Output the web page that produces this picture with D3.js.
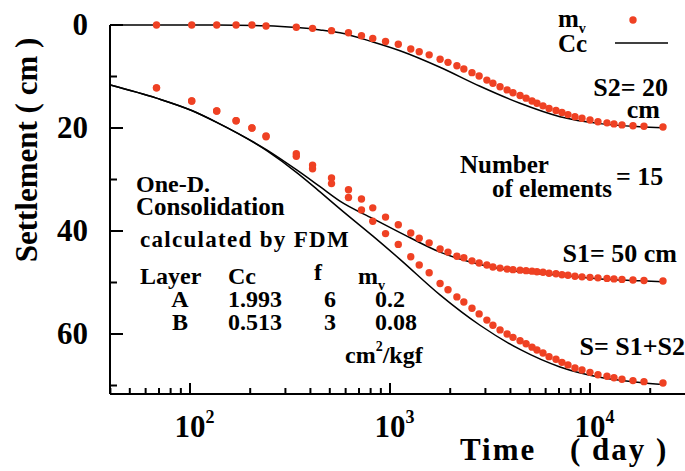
<!DOCTYPE html>
<html lang="en">
<head>
<meta charset="UTF-8">
<title>One-D. Consolidation</title>
<style>
    body { margin: 0; background: #fff; }
    svg text { font-family: "Liberation Serif", "Times New Roman", serif; font-weight: bold; fill: #000; }
    .axis line, .axis path { stroke: #000; stroke-width: 2px; }
</style>
</head>
<body>
<svg width="685" height="471" id="chart"></svg>
<script src="https://d3js.org/d3.v7.min.js"></script>
<script>
    // times of the FDM output (days) and settlements (cm) -- mv dots
    const dotDays = [68, 102, 136, 170, 204, 240, 340, 410, 510, 620, 720, 820,
        950, 1100, 1270, 1400, 1570, 1780, 1950, 2160, 2340, 2570, 2790, 3050,
        3270, 3550, 3850, 4120, 4470, 4790, 5130, 5430, 5820, 6240, 6760, 7240,
        7760, 8410, 9120, 10000, 10960, 12160, 13180, 14450, 16400, 18620, 23170];
    const dotS2 = [0, 0, 0, 0, 0, 0.2, 0.45, 0.65, 1.1, 1.5, 2.1, 2.6,
        3.2, 3.75, 4.65, 5.2, 5.8, 6.65, 7.25, 7.9, 8.55, 9.25, 9.9, 10.7,
        11.3, 12.0, 12.6, 13.15, 13.7, 14.2, 14.75, 15.2, 15.7, 16.2, 16.6, 17.0,
        17.4, 17.8, 18.1, 18.45, 18.8, 19.0, 19.2, 19.4, 19.55, 19.65, 19.8];
    const dotS1 = [12.2, 14.75, 16.7, 18.6, 20.0, 21.55, 25.0, 27.2, 29.7, 32.0, 33.8, 35.5,
        37.3, 38.8, 40.4, 41.4, 42.3, 43.5, 44.1, 44.9, 45.2, 45.8, 46.2, 46.6,
        47.0, 47.2, 47.4, 47.5, 47.6, 47.7, 47.8, 47.9, 48.0, 48.2, 48.3, 48.5,
        48.6, 48.8, 48.9, 49.0, 49.1, 49.2, 49.3, 49.4, 49.5, 49.6, 49.7];
    const dotS = [12.2, 14.75, 16.7, 18.6, 20.0, 21.7, 25.5, 27.9, 30.8, 33.5, 35.9, 38.1,
        40.5, 42.6, 45.0, 46.6, 48.1, 50.2, 51.4, 52.8, 53.8, 55.0, 56.1, 57.3,
        58.3, 59.2, 60.0, 60.65, 61.3, 61.9, 62.55, 63.1, 63.7, 64.4, 64.9, 65.5,
        66.0, 66.6, 67.0, 67.45, 67.9, 68.2, 68.5, 68.8, 69.05, 69.25, 69.5];

    // Cc curves
    const lineDays = [40, 68, 102, 136, 243, 343, 447, 562, 822, 1122, 1778, 2818, 4467, 7079, 11220, 17783, 23170];
    const lineS2 = [0, 0, 0, 0, 0.15, 0.5, 0.95, 1.5, 3.3, 5.0, 8.2, 11.9, 15.2, 17.8, 19.15, 19.75, 19.95];
    const lineS1 = [11.65, 14.2, 16.6, 18.9, 24.3, 28.2, 31.4, 34.2, 37.6, 40.3, 44.1, 46.5, 47.9, 48.6, 49.3, 49.65, 49.85];
    const lineS = [11.65, 14.2, 16.6, 18.9, 24.45, 28.7, 32.4, 35.7, 41.0, 45.5, 52.4, 58.3, 63.0, 66.4, 68.4, 69.4, 69.8];

    const yMajor = [0, 20, 40, 60];
    const yMinor = [10, 30, 50, 70];
    const xExps = [2, 3, 4];

    const svg = d3.select('#chart');
    const pLeft = 110, pRight = 685, pTop = 25, pBottom = 394;

    const x = d3.scaleLog().domain([Math.pow(10, 1.6), Math.pow(10, 4.475)]).range([pLeft, pRight]);
    const y = d3.scaleLinear().domain([0, 71.65]).range([pTop, pBottom]);

    svg.append('clipPath').attr('id', 'plot')
        .append('rect').attr('x', pLeft).attr('y', 0).attr('width', pRight - pLeft).attr('height', pBottom);

    // y axis: ticks point into the plot
    const yAxis = svg.append('g').attr('class', 'axis');
    yAxis.append('line').attr('x1', pLeft).attr('x2', pLeft).attr('y1', pTop).attr('y2', pBottom);
    yAxis.selectAll('.major').data(yMajor).enter().append('line')
        .attr('x1', pLeft).attr('x2', pLeft + 13).attr('y1', d => y(d)).attr('y2', d => y(d));
    yAxis.selectAll('.minor').data(yMinor).enter().append('line')
        .attr('x1', pLeft).attr('x2', pLeft + 7).attr('y1', d => y(d)).attr('y2', d => y(d));
    yAxis.selectAll('text').data(yMajor).enter().append('text')
        .attr('x', 88).attr('y', d => y(d) + 10)
        .attr('text-anchor', 'end').style('font-size', '31px')
        .text(d => d);

    // x axis (log)
    const xAxis = svg.append('g').attr('class', 'axis');
    xAxis.append('line').attr('x1', pLeft).attr('x2', pRight).attr('y1', pBottom).attr('y2', pBottom);
    const minorTicks = [];
    for (let e = 1; e <= 4; e++) {
        for (let m = 2; m <= 9; m++) {
            const v = m * Math.pow(10, e);
            if (v > x.domain()[0] && v < x.domain()[1]) minorTicks.push(v);
        }
    }
    xAxis.selectAll('.minor').data(minorTicks).enter().append('line')
        .attr('x1', d => x(d)).attr('x2', d => x(d)).attr('y1', pBottom).attr('y2', pBottom - 6);
    xAxis.selectAll('.major').data(xExps).enter().append('line')
        .attr('x1', d => x(Math.pow(10, d))).attr('x2', d => x(Math.pow(10, d)))
        .attr('y1', pBottom).attr('y2', pBottom - 11);
    // "10" centred on the tick, exponent as a raised tspan
    const xl = xAxis.selectAll('.lab').data(xExps).enter().append('text')
        .attr('x', d => x(Math.pow(10, d)) - 15.5).attr('y', 437)
        .style('font-size', '31px');
    xl.append('tspan').text('10');
    xl.append('tspan').attr('dy', -14).style('font-size', '18px').text(d => d);

    // axis titles
    svg.append('text')
        .attr('transform', 'translate(37,150) rotate(-90)')
        .attr('text-anchor', 'middle').style('font-size', '31px')
        .text('Settlement ( cm )');
    svg.append('text').attr('x', 460).attr('y', 460).style('font-size', '31px')
        .style('letter-spacing', '2px').text('Time');
    svg.append('text').attr('x', 570).attr('y', 460).style('font-size', '31px')
        .style('letter-spacing', '2px').text('( day )');

    // curves
    const plot = svg.append('g').attr('clip-path', 'url(#plot)');
    const line = d3.line()
        .x(d => x(d[0]))
        .y(d => y(d[1]))
        .curve(d3.curveMonotoneX);
    [lineS2, lineS1, lineS].forEach(vals => {
        plot.append('path')
            .datum(lineDays.map((t, i) => [t, vals[i]]))
            .attr('d', line)
            .attr('fill', 'none')
            .attr('stroke', '#000')
            .attr('stroke-width', 1.5);
    });
    [dotS2, dotS1, dotS].forEach(vals => {
        plot.selectAll(null)
            .data(dotDays.map((t, i) => [t, vals[i]]))
            .enter().append('circle')
            .attr('cx', d => x(d[0]))
            .attr('cy', d => y(d[1]))
            .attr('r', 3.7)
            .attr('fill', '#ef4123');
    });

    // text helpers
    const ann = (tx, ax, ay, size, anchor) => svg.append('text')
        .attr('x', ax).attr('y', ay).attr('text-anchor', anchor || 'start')
        .style('font-size', size + 'px').text(tx);
    // main text + smaller shifted part (subscript / superscript) + optional tail
    const annSub = (main, sub, ax, ay, size, dy, tail) => {
        const t = svg.append('text').attr('x', ax).attr('y', ay).style('font-size', size + 'px');
        t.append('tspan').text(main);
        t.append('tspan').attr('dy', dy).style('font-size', '14px').text(sub);
        if (tail) t.append('tspan').attr('dy', -dy).text(tail);
        return t;
    };

    // legend
    annSub('m', 'v', 558, 27, 25, 6);
    svg.append('circle').attr('cx', 633).attr('cy', 20).attr('r', 3.7).attr('fill', '#ef4123');
    ann('Cc', 558, 52, 25);
    svg.append('line').attr('x1', 615).attr('x2', 668).attr('y1', 43).attr('y2', 43)
        .attr('stroke', '#000').attr('stroke-width', 1.5);

    // annotations on the right
    ann('S2= 20', 668, 96, 26, 'end');
    ann('cm', 660, 118, 26, 'end');
    ann('Number', 460, 173, 25);
    ann('of elements', 492, 197, 25);
    ann('= 15', 616, 185, 26);
    ann('S1= 50 cm', 677, 262, 26, 'end');
    ann('S= S1+S2', 685, 355, 26, 'end');

    // annotations on the left
    ann('One-D.', 136, 192, 24);
    ann('Consolidation', 136, 215, 25);
    ann('calculated by FDM', 140, 247, 23).style('letter-spacing', '1.3px');
    ann('Layer', 140, 284, 24);
    ann('Cc', 228, 284, 24);
    ann('f', 318, 280, 24, 'middle');
    annSub('m', 'v', 358, 284, 24, 6);
    ann('A', 180, 307, 24, 'middle');
    ann('1.993', 228, 307, 24);
    ann('6', 330, 307, 24, 'middle');
    ann('0.2', 375, 307, 24);
    ann('B', 180, 330, 24, 'middle');
    ann('0.513', 228, 330, 24);
    ann('3', 330, 330, 24, 'middle');
    ann('0.08', 375, 330, 24);
    annSub('cm', '2', 345, 363, 24, -12, '/kgf');
</script>
</body>
</html>
